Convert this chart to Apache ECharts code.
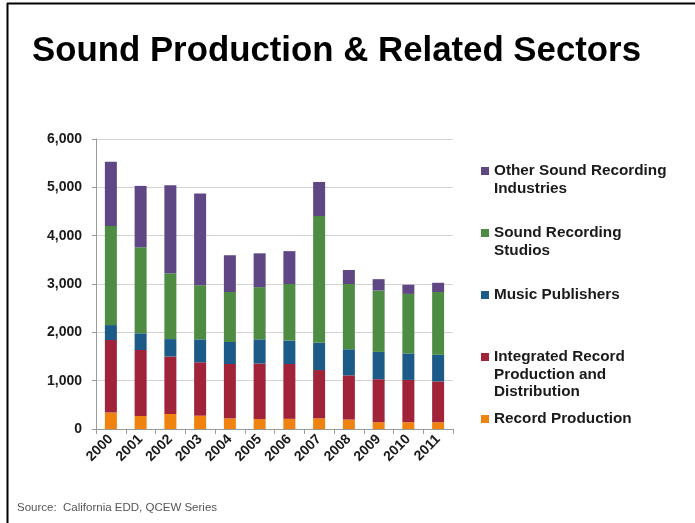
<!DOCTYPE html>
<html>
<head>
<meta charset="utf-8">
<script src="https://cdn.jsdelivr.net/npm/echarts@6/dist/echarts.min.js"></script>
<style>
html,body{margin:0;padding:0;background:#fff;}
#chart{width:695px;height:523px;}
</style>
</head>
<body>
<div id="chart"></div>
<script>
const years = ['2000','2001','2002','2003','2004','2005','2006','2007','2008','2009','2010','2011'];
const recordProduction = [340, 270, 310, 275, 220, 205, 210, 220, 195, 140, 140, 140];
const integratedRecord = [1500, 1365, 1190, 1105, 1125, 1150, 1135, 1000, 915, 890, 875, 845];
const musicPublishers = [310, 345, 360, 475, 455, 500, 485, 565, 540, 565, 550, 550];
const soundStudios = [2050, 1780, 1365, 1120, 1035, 1080, 1170, 2620, 1350, 1270, 1230, 1300];
const otherSound = [1330, 1270, 1820, 1900, 760, 700, 680, 705, 290, 235, 190, 190];
const yTicks = {min: 0, max: 6000, interval: 1000};

const names = ['Record Production','Integrated Record Production and Distribution','Music Publishers','Sound Recording Studios','Other Sound Recording Industries'];
const labels = {
  'Other Sound Recording Industries': 'Other Sound Recording\nIndustries',
  'Sound Recording Studios': 'Sound Recording\nStudios',
  'Music Publishers': 'Music Publishers',
  'Integrated Record Production and Distribution': 'Integrated Record\nProduction and\nDistribution',
  'Record Production': 'Record Production'
};
const colors = ['#F0820F', '#A1233A', '#1C5A87', '#4E8C44', '#5F4786'];
const dataArr = [recordProduction, integratedRecord, musicPublishers, soundStudios, otherSound];
const LH = 17.5;
const FONT = '"Liberation Sans", Arial, sans-serif';

// legend entries (first-line centers)
const legendCenters = {
  'Other Sound Recording Industries': 171,
  'Sound Recording Studios': 233,
  'Music Publishers': 295,
  'Integrated Record Production and Distribution': 357,
  'Record Production': 419
};
const legends = Object.keys(legendCenters).map(function (n) {
  const lines = labels[n].split('\n').length;
  const H = (2 * lines - 1) * LH;
  return {
    data: [n],
    left: 481,
    top: legendCenters[n] - H / 2,
    padding: 0,
    orient: 'vertical',
    itemWidth: 8,
    itemHeight: 8,
    itemGap: 0,
    icon: 'rect',
    selectedMode: false,
    formatter: function (name) {
      const l = labels[name].split('\n').length;
      return '\u00a0\n'.repeat(l - 1) + labels[name];
    },
    textStyle: {
      fontFamily: FONT,
      fontSize: 15.3,
      fontWeight: 'bold',
      color: '#1a1a1a',
      lineHeight: LH
    }
  };
});

const series = names.map(function (n, i) {
  return {
    name: n,
    type: 'bar',
    stack: 'total',
    barWidth: 12,
    data: dataArr[i],
    itemStyle: {color: colors[i]},
    emphasis: {disabled: true}
  };
});

const chart = echarts.init(document.getElementById('chart'), null, {renderer: 'canvas'});
chart.setOption({
  animation: false,
  backgroundColor: '#ffffff',
  color: colors,
  title: {
    text: 'Sound Production & Related Sectors',
    left: 27,
    top: 29,
    textStyle: {fontFamily: FONT, fontSize: 34.8, fontWeight: 'bold', color: '#000'}
  },
  legend: legends,
  grid: {left: 96, right: 242, top: 139, bottom: 94, containLabel: false},
  xAxis: {
    type: 'category',
    data: years,
    axisLine: {lineStyle: {color: '#9a9a9a', width: 1}},
    axisTick: {show: true, length: 5, alignWithLabel: false, lineStyle: {color: '#9a9a9a'}},
    axisLabel: {
      rotate: 45,
      margin: 8,
      interval: 0,
      fontFamily: FONT,
      fontSize: 14,
      fontWeight: 'bold',
      color: '#1a1a1a'
    }
  },
  yAxis: {
    type: 'value',
    min: yTicks.min,
    max: yTicks.max,
    interval: yTicks.interval,
    axisLine: {show: true, lineStyle: {color: '#9a9a9a', width: 1}},
    axisTick: {show: true, length: 4, lineStyle: {color: '#9a9a9a'}},
    splitLine: {lineStyle: {color: '#d4d4d4', width: 1}},
    axisLabel: {
      margin: 14,
      fontFamily: FONT,
      fontSize: 14,
      fontWeight: 'bold',
      color: '#1a1a1a',
      formatter: function (v) { return v.toLocaleString('en-US'); }
    }
  },
  graphic: [
    {type: 'line', shape: {x1: 7.5, y1: 3, x2: 7.5, y2: 523}, style: {stroke: '#000', lineWidth: 2}},
    {type: 'line', shape: {x1: 7, y1: 3.5, x2: 695, y2: 3.5}, style: {stroke: '#000', lineWidth: 2}},
    {type: 'text', left: 17, top: 502, style: {text: 'Source:  California EDD, QCEW Series', font: '11.5px ' + FONT, fill: '#555'}}
  ],
  series: series
});
</script>
</body>
</html>
